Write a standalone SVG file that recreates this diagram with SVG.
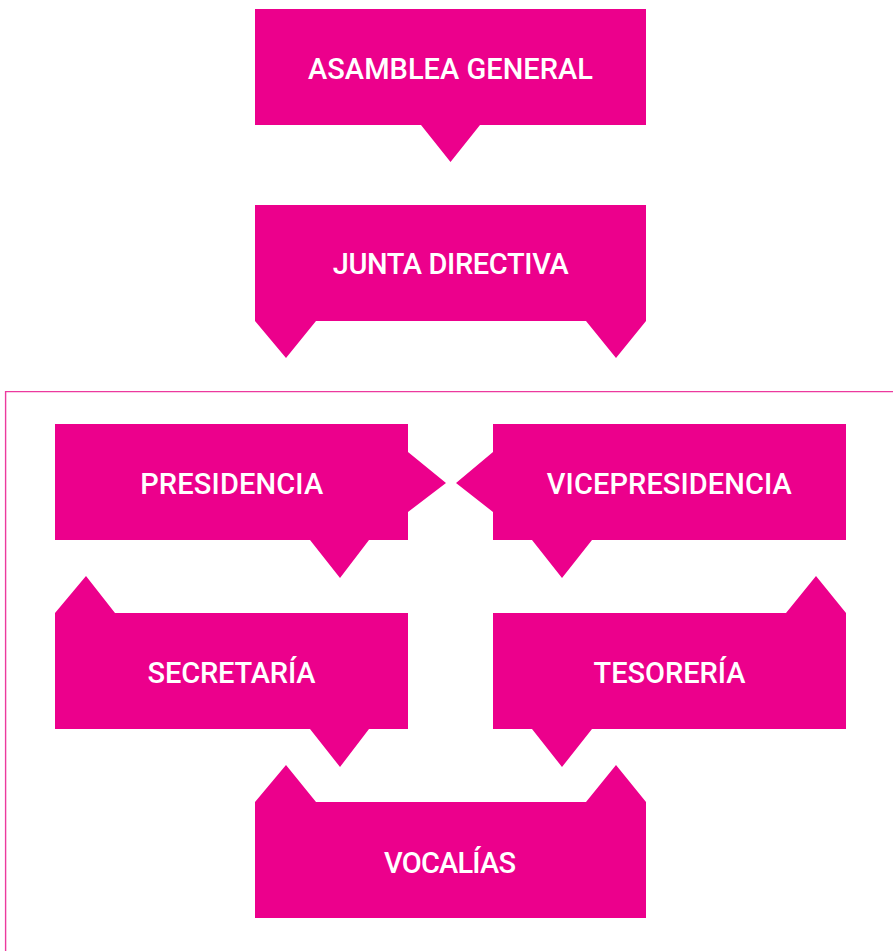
<svg xmlns="http://www.w3.org/2000/svg" width="893" height="951" viewBox="0 0 893 951">
<style>
.n{fill:#EC008C;}
.t{fill:#FFFFFF;font-family:Roboto,"Liberation Sans",sans-serif;font-size:29px;font-weight:500;text-anchor:middle;}
.frame{fill:none;stroke:#EC3A9E;stroke-width:1.4;}
</style>
<rect width="893" height="951" fill="#FFFFFF"/>
<g id="connectors">
<path class="frame" d="M893,391.6 H5.6 V951"/>
</g>
<g id="asamblea">
<path class="n" d="M255,9 H646 V125 H480 L450.5,162 L421,125 H255 Z"/>
<text class="t" x="450.5" y="79" textLength="285" lengthAdjust="spacing">ASAMBLEA GENERAL</text>
</g>
<g id="junta">
<path class="n" d="M255,205 H646 V321 L616,358 L586,321 H316 L286,358 L255,321 Z"/>
<text class="t" x="450.7" y="274" textLength="236" lengthAdjust="spacing">JUNTA DIRECTIVA</text>
</g>
<g id="presidencia">
<path class="n" d="M55,424 H408 V452 L446,483 L408,512 V540 H369 L340,578 L310,540 H55 Z"/>
<text class="t" x="231.7" y="494" textLength="183" lengthAdjust="spacing">PRESIDENCIA</text>
</g>
<g id="vicepresidencia">
<path class="n" d="M493,424 H846 V540 H592 L562,578 L532,540 H493 V512 L456,483 L493,452 Z"/>
<text class="t" x="669.3" y="494" textLength="245" lengthAdjust="spacing">VICEPRESIDENCIA</text>
</g>
<g id="secretaria">
<path class="n" d="M55,613 L86,576 L115,613 H408 V729 H369 L340,767 L310,729 H55 Z"/>
<text class="t" x="231.5" y="683" textLength="168" lengthAdjust="spacing">SECRETARÍA</text>
</g>
<g id="tesoreria">
<path class="n" d="M493,613 H786 L816,576 L846,613 V729 H592 L562,767 L532,729 H493 Z"/>
<text class="t" x="669.5" y="683" textLength="152" lengthAdjust="spacing">TESORERÍA</text>
</g>
<g id="vocalias">
<path class="n" d="M255,802 L286,765 L316,802 H586 L616,765 L646,802 V918 H255 Z"/>
<text class="t" x="450" y="872.7" textLength="132" lengthAdjust="spacing">VOCALÍAS</text>
</g>
</svg>
